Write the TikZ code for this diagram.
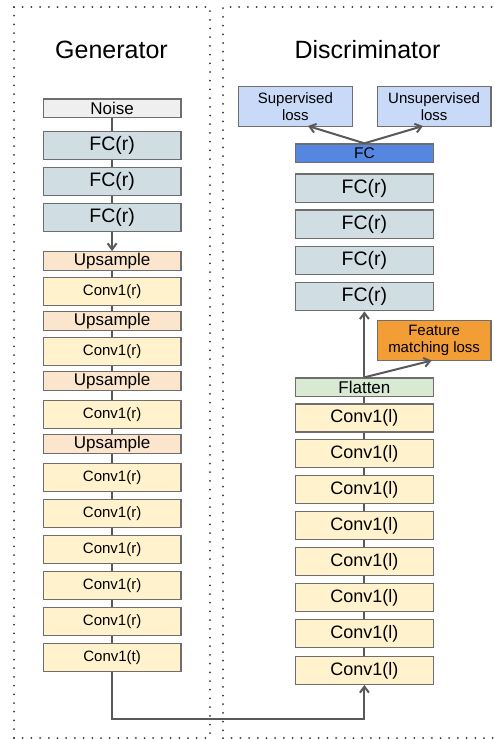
\documentclass[tikz,border=0pt]{standalone}
\usepackage{fontspec}
\setmainfont{Liberation Sans}
\usetikzlibrary{arrows.meta}
\definecolor{noisec}{HTML}{EFEFEF}
\definecolor{fcrc}{HTML}{D0DEE3}
\definecolor{upc}{HTML}{FCE5CD}
\definecolor{convc}{HTML}{FFF2CC}
\definecolor{lossc}{HTML}{C9DAF8}
\definecolor{fcc}{HTML}{5687E0}
\definecolor{featc}{HTML}{F29D36}
\definecolor{flatc}{HTML}{D9EAD3}
\definecolor{borderc}{HTML}{6E6E6E}
\definecolor{linkc}{HTML}{595959}
\definecolor{dotc}{HTML}{333333}
\tikzset{
  x=1pt, y=-1pt,
  layer/.style={draw=borderc, line width=1.3pt, inner sep=0pt, anchor=north west, align=center, text=black},
  gbox/.style={layer, minimum width=137.5pt},
  dbox/.style={layer, minimum width=137.5pt},
  lossbox/.style={layer, minimum width=113.5pt, minimum height=40pt, font=\fontsize{15}{17}\selectfont},
  link/.style={draw=linkc, line width=2pt},
  arr/.style={link, -{Straight Barb[length=6pt,width=9pt,line width=2pt]}},
  frame/.style={draw=dotc, line width=2pt, dash pattern=on 0pt off 8.7pt, line cap=round},
  title/.style={font=\fontsize{25}{28}\selectfont, inner sep=0pt},
}
\begin{document}
\begin{tikzpicture}
\useasboundingbox (0,0) rectangle (495,739);
% frames
\draw[frame] (14,7) -- (210,7) -- (210,739);
\draw[frame] (14,7) -- (14,739);
\draw[frame] (14,738) -- (210,738);
\draw[frame] (223,739) -- (223,7) -- (500,7);
\draw[frame] (223,738) -- (500,738);
% titles
\node[title] (gt) at (111.5,49.5) {Generator};
\node[title] (dt) at (367.5,50) {Discriminator};
% generator
\node[gbox, fill=noisec, minimum height=18.7pt, font=\fontsize{17}{19}\selectfont] (n) at (42.7,98.3) {Noise};
\node[gbox, fill=fcrc, minimum height=28pt, font=\fontsize{19.5}{21}\selectfont] (g1) at (42.7,131) {FC(r)};
\node[gbox, fill=fcrc, minimum height=28pt, font=\fontsize{19.5}{21}\selectfont] (g2) at (42.7,167) {FC(r)};
\node[gbox, fill=fcrc, minimum height=28pt, font=\fontsize{19.5}{21}\selectfont] (g3) at (42.7,203) {FC(r)};
\node[gbox, fill=upc, minimum height=19pt, font=\fontsize{17}{19}\selectfont] (u1) at (42.7,251) {Upsample};
\node[gbox, fill=convc, minimum height=28pt, font=\fontsize{15}{17}\selectfont] (c1) at (42.7,277) {Conv1(r)};
\node[gbox, fill=upc, minimum height=19pt, font=\fontsize{17}{19}\selectfont] (u2) at (42.7,311) {Upsample};
\node[gbox, fill=convc, minimum height=28pt, font=\fontsize{15}{17}\selectfont] (c2) at (42.7,337) {Conv1(r)};
\node[gbox, fill=upc, minimum height=19pt, font=\fontsize{17}{19}\selectfont] (u3) at (42.7,371) {Upsample};
\node[gbox, fill=convc, minimum height=28pt, font=\fontsize{15}{17}\selectfont] (c3) at (42.7,400) {Conv1(r)};
\node[gbox, fill=upc, minimum height=19pt, font=\fontsize{17}{19}\selectfont] (u4) at (42.7,434) {Upsample};
\node[gbox, fill=convc, minimum height=28pt, font=\fontsize{15}{17}\selectfont] (c4) at (42.7,463) {Conv1(r)};
\node[gbox, fill=convc, minimum height=28pt, font=\fontsize{15}{17}\selectfont] (c5) at (42.7,499) {Conv1(r)};
\node[gbox, fill=convc, minimum height=28pt, font=\fontsize{15}{17}\selectfont] (c6) at (42.7,535) {Conv1(r)};
\node[gbox, fill=convc, minimum height=28pt, font=\fontsize{15}{17}\selectfont] (c7) at (42.7,571) {Conv1(r)};
\node[gbox, fill=convc, minimum height=28pt, font=\fontsize{15}{17}\selectfont] (c8) at (42.7,607) {Conv1(r)};
\node[gbox, fill=convc, minimum height=28pt, font=\fontsize{15}{17}\selectfont] (ct) at (42.7,643) {Conv1(t)};
% discriminator
\node[lossbox, fill=lossc] (sl) at (238,86) {Supervised\\loss};
\node[lossbox, fill=lossc] (ul) at (376.7,86) {Unsupervised\\loss};
\node[dbox, fill=fcc, minimum height=18.4pt, font=\fontsize{15.5}{17}\selectfont] (fc) at (295,143.3) {FC};
\node[dbox, fill=fcrc, minimum height=28.4pt, font=\fontsize{19.5}{21}\selectfont] (d1) at (295,173.3) {FC(r)};
\node[dbox, fill=fcrc, minimum height=28.4pt, font=\fontsize{19.5}{21}\selectfont] (d2) at (295,209.3) {FC(r)};
\node[dbox, fill=fcrc, minimum height=28.4pt, font=\fontsize{19.5}{21}\selectfont] (d3) at (295,245.7) {FC(r)};
\node[dbox, fill=fcrc, minimum height=28.4pt, font=\fontsize{19.5}{21}\selectfont] (d4) at (295,281.7) {FC(r)};
\node[lossbox, fill=featc] (fm) at (376.7,320) {Feature\\matching loss};
\node[dbox, fill=flatc, minimum height=18.7pt, font=\fontsize{17}{19}\selectfont] (fl) at (295,377.3) {Flatten};
\node[dbox, fill=convc, minimum height=28pt, font=\fontsize{18}{20}\selectfont] (l1) at (295,403.3) {Conv1(l)};
\node[dbox, fill=convc, minimum height=28pt, font=\fontsize{18}{20}\selectfont] (l2) at (295,439) {Conv1(l)};
\node[dbox, fill=convc, minimum height=28pt, font=\fontsize{18}{20}\selectfont] (l3) at (295,475) {Conv1(l)};
\node[dbox, fill=convc, minimum height=28pt, font=\fontsize{18}{20}\selectfont] (l4) at (295,511) {Conv1(l)};
\node[dbox, fill=convc, minimum height=28pt, font=\fontsize{18}{20}\selectfont] (l5) at (295,547) {Conv1(l)};
\node[dbox, fill=convc, minimum height=28pt, font=\fontsize{18}{20}\selectfont] (l6) at (295,583) {Conv1(l)};
\node[dbox, fill=convc, minimum height=28pt, font=\fontsize{18}{20}\selectfont] (l7) at (295,619) {Conv1(l)};
\node[dbox, fill=convc, minimum height=28pt, font=\fontsize{18}{20}\selectfont] (l8) at (295,655.7) {Conv1(l)};
% generator links
\draw[link] (n.south) -- (g1.north);
\draw[link] (g1.south) -- (g2.north);
\draw[link] (g2.south) -- (g3.north);
\draw[arr] (g3.south) -- (u1.north);
\draw[link] (u1.south) -- (c1.north);
\draw[link] (c1.south) -- (u2.north);
\draw[link] (u2.south) -- (c2.north);
\draw[link] (c2.south) -- (u3.north);
\draw[link] (u3.south) -- (c3.north);
\draw[link] (c3.south) -- (u4.north);
\draw[link] (u4.south) -- (c4.north);
\draw[link] (c4.south) -- (c5.north);
\draw[link] (c5.south) -- (c6.north);
\draw[link] (c6.south) -- (c7.north);
\draw[link] (c7.south) -- (c8.north);
\draw[link] (c8.south) -- (ct.north);
% bridge
\coordinate (b1) at (ct.south |- 0,719.3);
\draw[arr] (ct.south) -- (b1) -- (b1 -| l8.south) -- (l8.south);
% discriminator links
\draw[link] (l8.north) -- (l7.south);
\draw[link] (l7.north) -- (l6.south);
\draw[link] (l6.north) -- (l5.south);
\draw[link] (l5.north) -- (l4.south);
\draw[link] (l4.north) -- (l3.south);
\draw[link] (l3.north) -- (l2.south);
\draw[link] (l2.north) -- (l1.south);
\draw[link] (l1.north) -- (fl.south);
\draw[arr] (fl.north) -- (d4.south);
\coordinate (fmt) at (431.7,360.5);
\draw[arr] (fl.north) -- (fmt);
\coordinate (slt) at (308,126);
\coordinate (ult) at (423,126);
\draw[arr] (fc.north) -- (slt);
\draw[arr] (fc.north) -- (ult);
\end{tikzpicture}
\end{document}
